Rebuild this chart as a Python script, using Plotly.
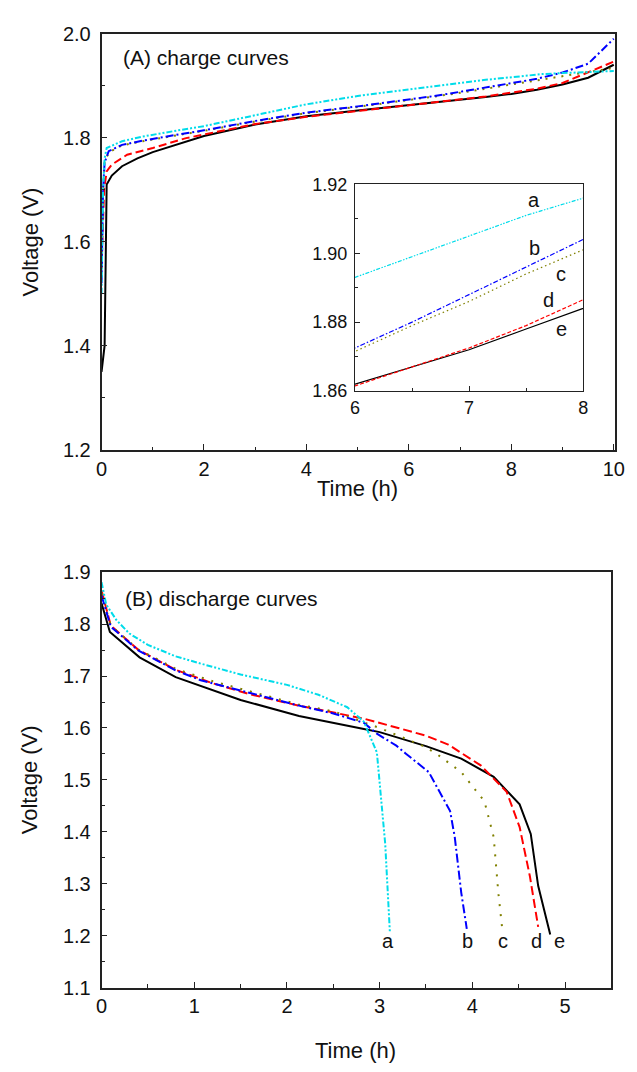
import plotly.graph_objects as go

W, H = 637, 1072

# ---------------- (A) charge curves ----------------
ch_t_a = [0, 0.03, 0.06, 0.1, 0.4, 0.8, 1.5, 2, 3, 4, 5, 6, 6.5, 7, 7.5, 8, 8.6, 9, 9.5, 10]
ch_v_a = [1.50, 1.70, 1.760, 1.780, 1.793, 1.802, 1.814, 1.822, 1.843, 1.864, 1.880, 1.893, 1.899, 1.905, 1.911, 1.916, 1.922, 1.924, 1.926, 1.928]

ch_t_b = [0, 0.03, 0.06, 0.14, 0.4, 0.8, 1.5, 2, 3, 4, 5, 6, 6.5, 7, 7.5, 8, 8.5, 9, 9.5, 10]
ch_v_b = [1.52, 1.70, 1.752, 1.774, 1.786, 1.794, 1.806, 1.814, 1.832, 1.848, 1.860, 1.8725, 1.880, 1.888, 1.896, 1.904, 1.913, 1.925, 1.942, 1.99]

ch_t_c = [0, 0.03, 0.06, 0.15, 0.4, 0.8, 1.5, 2, 3, 4, 5, 6, 6.5, 7, 7.5, 8, 8.6, 9, 9.5, 10]
ch_v_c = [1.55, 1.70, 1.755, 1.772, 1.785, 1.793, 1.805, 1.813, 1.831, 1.847, 1.859, 1.8715, 1.879, 1.886, 1.894, 1.901, 1.911, 1.918, 1.926, 1.934]

ch_t_d = [0, 0.05, 0.1, 0.2, 0.5, 1, 1.65, 2, 3, 4, 5, 6, 6.5, 7, 7.5, 8, 8.5, 9, 9.5, 10]
ch_v_d = [1.55, 1.70, 1.735, 1.748, 1.767, 1.780, 1.799, 1.806, 1.826, 1.840, 1.851, 1.8615, 1.867, 1.8725, 1.879, 1.8865, 1.894, 1.905, 1.926, 1.946]

ch_t_e = [0, 0.06, 0.1, 0.2, 0.4, 0.7, 1.0, 1.5, 2, 3, 4, 5, 6, 6.5, 7, 7.5, 8, 8.5, 9, 9.5, 10]
ch_v_e = [1.35, 1.40, 1.71, 1.727, 1.745, 1.760, 1.772, 1.788, 1.803, 1.825, 1.841, 1.852, 1.862, 1.867, 1.872, 1.878, 1.884, 1.892, 1.902, 1.915, 1.94]

# ---------------- (B) discharge curves ----------------
dis_t_a = [0, 0.05, 0.16, 0.3, 0.5, 0.8, 1.07, 1.5, 2.0, 2.34, 2.65, 2.83, 2.97, 3.06, 3.11]
dis_v_a = [1.881, 1.838, 1.808, 1.782, 1.760, 1.738, 1.724, 1.703, 1.683, 1.664, 1.640, 1.612, 1.553, 1.377, 1.208]

dis_t_b = [0, 0.1, 0.4, 0.8, 1.07, 1.6, 2.13, 2.5, 2.83, 2.97, 3.18, 3.28, 3.53, 3.76, 3.81, 3.88, 3.94]
dis_v_b = [1.855, 1.795, 1.749, 1.711, 1.692, 1.668, 1.643, 1.628, 1.610, 1.589, 1.566, 1.551, 1.515, 1.440, 1.390, 1.283, 1.213]

dis_t_c = [0, 0.1, 0.4, 0.8, 1.2, 1.6, 2.13, 2.5, 3.0, 3.46, 3.6, 3.88, 4.13, 4.23, 4.28, 4.32]
dis_v_c = [1.860, 1.797, 1.751, 1.714, 1.690, 1.670, 1.645, 1.632, 1.600, 1.566, 1.552, 1.515, 1.459, 1.390, 1.283, 1.217]

dis_t_d = [0, 0.1, 0.4, 0.8, 1.2, 1.6, 2.13, 2.5, 2.83, 3.2, 3.5, 3.74, 4.09, 4.37, 4.51, 4.62, 4.71]
dis_v_d = [1.865, 1.797, 1.750, 1.712, 1.686, 1.665, 1.643, 1.630, 1.618, 1.600, 1.585, 1.568, 1.528, 1.477, 1.409, 1.315, 1.217]

dis_t_e = [0, 0.09, 0.41, 0.8, 1.5, 2.13, 2.83, 3.0, 3.5, 3.88, 4.23, 4.51, 4.63, 4.71, 4.84]
dis_v_e = [1.840, 1.785, 1.736, 1.698, 1.654, 1.623, 1.598, 1.592, 1.565, 1.541, 1.506, 1.453, 1.396, 1.296, 1.202]

curve_labels = ["a", "b", "c", "d", "e"]
dis_label_t = [3.095, 3.95, 4.33, 4.69, 4.94]
dis_label_v = [1.189, 1.189, 1.189, 1.189, 1.189]
inset_label_t = [7.57, 7.57, 7.81, 7.70, 7.81]
inset_label_v = [1.9155, 1.9015, 1.894, 1.8865, 1.878]

colors = ["#00dcea", "#0000ff", "#808000", "#ff0000", "#000000"]
dash_main = ["6px,2px,2px,2px,2px,2px", "8px,3px,2px,3px", "2px,6px", "8px,4px", "solid"]
dash_inset = ["4px,1.5px,1.5px,1.5px,1.5px,1.5px", "5px,2px,1.5px,2px", "1.5px,3px", "4px,2px", "solid"]
dash_dis = ["6px,2px,2px,2px,2px,2px", "9px,3px,2px,3px", "2px,8px", "9px,4px", "solid"]

charge = [(ch_t_a, ch_v_a), (ch_t_b, ch_v_b), (ch_t_c, ch_v_c), (ch_t_d, ch_v_d), (ch_t_e, ch_v_e)]
discharge = [(dis_t_a, dis_v_a), (dis_t_b, dis_v_b), (dis_t_c, dis_v_c), (dis_t_d, dis_v_d), (dis_t_e, dis_v_e)]

fig = go.Figure()
order = [4, 3, 2, 1, 0]
for i in order:
    t, v = charge[i]
    fig.add_trace(go.Scatter(x=t, y=v, mode="lines", xaxis="x", yaxis="y",
                             line=dict(color=colors[i], width=2, dash=dash_main[i]), showlegend=False))
for i in order:
    t, v = charge[i]
    fig.add_trace(go.Scatter(x=t, y=v, mode="lines", xaxis="x3", yaxis="y3",
                             line=dict(color=colors[i], width=1.2, dash=dash_inset[i]), showlegend=False))
for i in order:
    t, v = discharge[i]
    fig.add_trace(go.Scatter(x=t, y=v, mode="lines", xaxis="x2", yaxis="y2",
                             line=dict(color=colors[i], width=2, dash=dash_dis[i]), showlegend=False))

FONT = "Liberation Sans, Arial, sans-serif"

def px_x(p):
    return p / W

def px_y(p):
    return 1 - p / H

axis_common = dict(showgrid=False, zeroline=False, showline=True, linecolor="#222", linewidth=1.6,
                   mirror=True, ticks="inside", tickcolor="#222", tickwidth=1.4, ticklen=6,
                   tickfont=dict(family=FONT, size=20, color="#111"))

fig.update_layout(
    width=W, height=H, margin=dict(l=0, r=0, t=0, b=0),
    paper_bgcolor="white", plot_bgcolor="white",
    xaxis=dict(domain=[px_x(98), px_x(625)], range=[0, 10.03], anchor="y", dtick=2, tick0=0,
               minor=dict(dtick=1, ticks="inside", ticklen=3.5, tickcolor="#222"), **axis_common),
    yaxis=dict(domain=[px_y(448), px_y(23)], range=[1.2, 2.0], anchor="x", dtick=0.2, tick0=1.2,
               tickformat=".1f", ticklabelstandoff=5,
               minor=dict(dtick=0.1, ticks="inside", ticklen=3.5, tickcolor="#222"),
               **axis_common),
    xaxis2=dict(domain=[px_x(98), px_x(621)], range=[0, 5.5], anchor="y2", dtick=1, tick0=0,
                minor=dict(dtick=0.5, ticks="inside", ticklen=3.5, tickcolor="#222"), **axis_common),
    yaxis2=dict(domain=[px_y(997), px_y(573)], range=[1.1, 1.9], anchor="x2", dtick=0.1, tick0=1.1,
                tickformat=".1f", ticklabelstandoff=5,
                minor=dict(dtick=0.05, ticks="inside", ticklen=3.5, tickcolor="#222"),
                **axis_common),
    xaxis3=dict(domain=[px_x(358), px_x(592)], range=[6, 8], anchor="y3", dtick=1, tick0=6,
                minor=dict(dtick=0.5, ticks="inside", ticklen=3, tickcolor="#222"),
                showgrid=False, zeroline=False, showline=True, linecolor="#222", linewidth=1.3,
                mirror=True, ticks="inside", tickcolor="#222", tickwidth=1.2, ticklen=5,
                tickfont=dict(family=FONT, size=18, color="#111")),
    yaxis3=dict(domain=[px_y(388), px_y(177)], range=[1.86, 1.92], anchor="x3", dtick=0.02, tick0=1.86,
                tickformat=".2f", ticklabelstandoff=3,
                minor=dict(dtick=0.01, ticks="inside", ticklen=3, tickcolor="#222"),
                showgrid=False, zeroline=False, showline=True, linecolor="#222", linewidth=1.3,
                mirror=True, ticks="inside", tickcolor="#222", tickwidth=1.2, ticklen=5,
                tickfont=dict(family=FONT, size=18, color="#111")),
)

ann = []
ann.append(dict(text="(A) charge curves", x=px_x(118), y=px_y(47), xref="paper", yref="paper",
                xanchor="left", yanchor="middle", showarrow=False, font=dict(family=FONT, size=21, color="#111")))
ann.append(dict(text="(B) discharge curves", x=px_x(120), y=px_y(600), xref="paper", yref="paper",
                xanchor="left", yanchor="middle", showarrow=False, font=dict(family=FONT, size=21, color="#111")))
ann.append(dict(text="Time (h)", x=px_x(361), y=px_y(487), xref="paper", yref="paper",
                xanchor="center", yanchor="middle", showarrow=False, font=dict(family=FONT, size=22, color="#111")))
ann.append(dict(text="Time (h)", x=px_x(359), y=px_y(1061), xref="paper", yref="paper",
                xanchor="center", yanchor="middle", showarrow=False, font=dict(family=FONT, size=22, color="#111")))
ann.append(dict(text="Voltage (V)", x=px_x(25), y=px_y(236), xref="paper", yref="paper", textangle=-90,
                xanchor="center", yanchor="middle", showarrow=False, font=dict(family=FONT, size=22, color="#111")))
ann.append(dict(text="Voltage (V)", x=px_x(25), y=px_y(785), xref="paper", yref="paper", textangle=-90,
                xanchor="center", yanchor="middle", showarrow=False, font=dict(family=FONT, size=22, color="#111")))
for lab, tx, vy in zip(curve_labels, dis_label_t, dis_label_v):
    ann.append(dict(text=lab, x=tx, y=vy, xref="x2", yref="y2", showarrow=False,
                    xanchor="center", yanchor="middle", font=dict(family=FONT, size=20, color="#111")))
for lab, tx, vy in zip(curve_labels, inset_label_t, inset_label_v):
    ann.append(dict(text=lab, x=tx, y=vy, xref="x3", yref="y3", showarrow=False,
                    xanchor="center", yanchor="middle", font=dict(family=FONT, size=20, color="#111")))
fig.update_layout(annotations=ann)

fig.write_html("out.html")
